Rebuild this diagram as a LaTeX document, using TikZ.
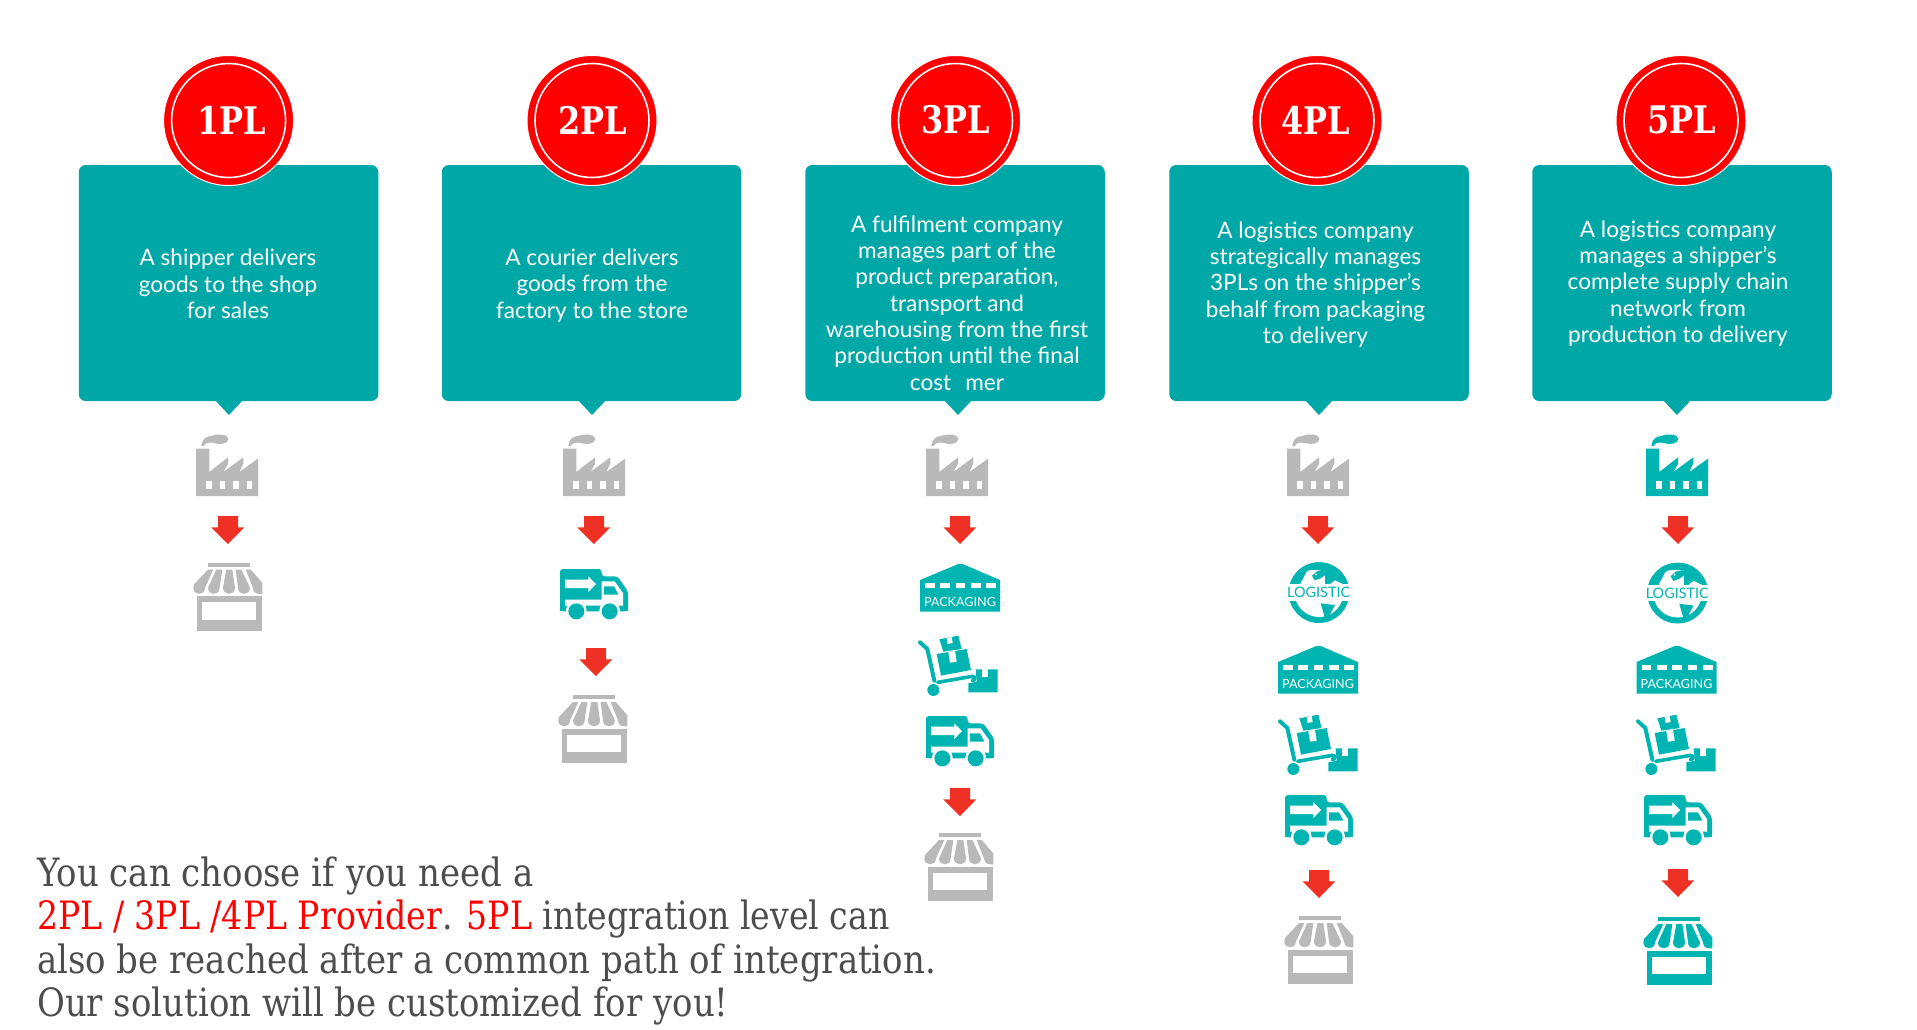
\documentclass[tikz,border=0pt]{standalone}
\usepackage{fontspec}
\setmainfont{Lato}
\newfontfamily\slabfont[FakeStretch=0.871]{DejaVu Serif}
\newfontfamily\slabfontb[FakeStretch=0.85]{DejaVu Serif}
\newfontfamily\headfont[FakeStretch=0.84]{DejaVu Serif Bold}
\definecolor{boxteal}{HTML}{00A7A7}
\definecolor{iconteal}{HTML}{00B5B1}
\definecolor{icongrey}{HTML}{B9B9B9}
\definecolor{arrowred}{HTML}{EE3124}
\definecolor{badgered}{HTML}{FF0000}
\definecolor{slabgrey}{HTML}{4D4D4D}
\tikzset{
  x=1pt,y=-1pt,
  bubble/.style={fill=boxteal,rounded corners=7pt,inner sep=0pt,minimum width=299.5pt,minimum height=236pt},
  bubbletxt/.style={text=white,align=center,inner sep=0pt,font=\fontsize{22.6}{26.3}\selectfont},
  badge/.style={circle,fill=badgered,draw=white,line width=1pt,minimum size=130pt,inner sep=0pt},
  badgering/.style={circle,draw=white,line width=1.6pt,minimum size=114pt,inner sep=0pt},
  badgetxt/.style={text=white,inner sep=0pt,font=\headfont\fontsize{38}{38}\selectfont},
  slabline/.style={anchor=base west,inner sep=0pt,text=slabgrey,font=\slabfont\fontsize{39}{43}\selectfont},
  slablineb/.style={anchor=base west,inner sep=0pt,text=slabgrey,font=\slabfontb\fontsize{39}{43}\selectfont},
  icon/.style={scale=0.33333},
  pics/factory/.style={code={
    \fill[#1] (108,86)--(148,86)--(148,156)--(204,112)--(204,132)--(190,156)--(250,112)--(250,130)--(238,156)--(294,116)--(294,228)--(108,228)--cycle;
    \foreach \wx in {139,180,220,260}{\fill[white] (\wx,182) rectangle ++(16,25);}
    \fill[#1] (124,78) .. controls (126,58) and (138,48) .. (155,48) .. controls (170,40) and (204,42) .. (205,56) .. controls (205,72) and (180,74) .. (165,70) .. controls (152,66) and (136,66) .. (131,78) -- cycle;
  }},
  pics/downarrow/.style={code={
    \fill[arrowred] (180,288)--(240,288)--(240,322)--(259,322)--(210,372)--(160,322)--(180,322)--cycle;
  }},
  pics/packaging/.style={code={
    \fill[iconteal] (90,480)--(205,432)--(218,432)--(330,480)--(330,575)--(90,575)--cycle;
    \foreach \dx in {105,151,197,243,289}{\fill[white] (\dx,489) rectangle ++(29,14);}
    \node[text=white,inner sep=0pt,font=\fontsize{12.6}{13}\selectfont] (word) at (210,546) {PACKAGING};
  }},
  pics/trolley/.style={code={
    \fill[iconteal] (182,118)--(248,118)--(248,187)--(160,187)--(160,160)--(185,155)--cycle;
    \fill[white] (200,117) rectangle (220,142);
    \draw[white,line width=6pt,line cap=round] (72,157)--(172,139);
    \draw[iconteal,line width=4pt,line cap=round,line join=round] (15,37)--(37,57)--(58,152);
    \draw[iconteal,line width=3.6pt,line cap=round] (68,157)--(172,139) .. controls (182,140) and (182,150) .. (172,152);
    \fill[iconteal] (55,180) circle[radius=18];
    \fill[iconteal] (73,28)--(130,17)--(140,57)--(85,65)--cycle;
    \fill[white] (95,24)--(110,21)--(113,39)--(98,42)--cycle;
    \fill[iconteal] (65,72)--(155,57)--(168,120)--(78,137)--cycle;
    \fill[white] (100,66)--(120,63)--(125,95)--(105,98)--cycle;
  }},
  pics/truck/.style={code={
    \fill[iconteal,rounded corners=3pt] (18,18)--(143,18)--(143,40)--(190,40)--(222,85)--(222,145)--(18,145)--cycle;
    \fill[white] (33,110)--(143,110)--(143,55)--(182,55)--(207,90)--(207,128)--(33,128)--cycle;
    \fill[iconteal] (150,70)--(180,70)--(193,95)--(150,95)--cycle;
    \fill[white] (33,50)--(103,50)--(103,40)--(126,63)--(103,87)--(103,75)--(33,75)--cycle;
    \fill[white] (67,143) circle[radius=31];
    \fill[white] (167,143) circle[radius=31];
    \fill[iconteal] (18,128) rectangle (36,145);
    \fill[iconteal] (98,128) rectangle (136,145);
    \fill[iconteal] (198,128) rectangle (222,145);
    \fill[iconteal] (67,145) circle[radius=24];
    \fill[iconteal] (167,145) circle[radius=24];
  }},
  pics/globe/.style={code={
    \begin{scope}
      \clip (117,113) circle[radius=91];
      \fill[iconteal] (20,20) rectangle (215,88);
      \fill[iconteal] (20,137) rectangle (215,210);
      \fill[white] (117,113) circle[radius=73] ;
      \fill[iconteal] (20,20) rectangle (215,44);
      \fill[iconteal] (135,20) rectangle (215,88);
      \fill[iconteal] (40,30) -- (90,30) -- (60,88) -- (20,88) -- cycle;
      \fill[white] (150,88)--(165,76)--(190,88)--cycle;
      \fill[iconteal] (96,62)--(112,48)--(130,44)--(146,46)--(136,60)--(122,70)--(104,76)--cycle;
      \fill[white] (108,58) circle[radius=3];
      \fill[iconteal] (122,145)--(165,150)--(150,178)--(135,190)--(128,165)--cycle;
      \fill[white] (20,88) rectangle (215,137);
    \end{scope}
    \node[text=iconteal,inner sep=0pt,font=\fontsize{14.4}{15}\selectfont] (word) at (116,113) {LOGISTIC};
  }},
  pics/store/.style={code={
    \fill[#1] (73,24) rectangle (197,36);
    \fill[#1] (30,90)--(72,45)--(88,45)--(63,100) .. controls (63,124) and (28,124) .. (28,100)--cycle;
    \fill[#1] (97,45)--(115,45)--(107,100) .. controls (107,124) and (72,124) .. (72,100)--cycle;
    \fill[#1] (127,45)--(145,45)--(153,100) .. controls (153,124) and (117,124) .. (117,100)--cycle;
    \fill[#1] (155,45)--(172,45)--(198,100) .. controls (198,124) and (162,124) .. (162,100)--cycle;
    \fill[#1] (185,45)--(200,45)--(235,85)--(235,118)--(225,118) .. controls (215,118) and (207,110) .. (207,100)--cycle;
    \fill[#1] (38,125) rectangle (233,228);
    \fill[white] (55,143) rectangle (215,195);
  }},
}
\begin{document}
\begin{tikzpicture}
\useasboundingbox (0,0) rectangle (1917,1029);
% bubbles
\foreach \nm/\bx/\tx in {b1/228.5/229,b2/591.5/592,b3/955/958,b4/1319/1319,b5/1682/1677}{
  \node[bubble] (\nm) at (\bx,283) {};
  \fill[boxteal] (\tx-14,400)--(\tx+14,400)--(\tx,415)--cycle;
}
% bubble texts
\node[bubbletxt] (t1) at (228,284) {A shipper delivers\\goods to the shop\\for sales};
\node[bubbletxt] (t2) at (592,285.5) {A courier delivers\\goods from the\\factory to the store};
\node[bubbletxt] (t3) at (957,303) {A fulfilment company\\manages part of the\\product preparation,\\transport and\\warehousing from the first\\production until the final\\cost\hspace{14pt}mer};
\node[bubbletxt] (t4) at (1315.5,284.5) {A logistics company\\strategically manages\\3PLs on the shipper's\\behalf from packaging\\to delivery};
\node[bubbletxt] (t5) at (1678,283.5) {A logistics company\\manages a shipper's\\complete supply chain\\network from\\production to delivery};
% badges
\foreach \nm/\cx/\lx/\lab in {1/228.6/232/1PL,2/592/593/2PL,3/955.5/956/3PL,4/1317/1315.5/4PL,5/1681/1682/5PL}{
  \node[badge] (c\nm) at (\cx,120.5) {};
  \node[badgering] (r\nm) at (\cx,120.5) {};
  \node[badgetxt] (l\nm) at (\lx,120) {\lab};
}
% column 1
\pic[icon] (f1) at (160,420) {factory=icongrey};
\pic[icon] (a11) at (158,420) {downarrow};
\pic[icon] (s1) at (184,554.5) {store=icongrey};
% column 2
\pic[icon] (f2) at (527,420) {factory=icongrey};
\pic[icon] (a21) at (524,420) {downarrow};
\pic[icon] (k2) at (554,563) {truck};
\pic[icon] (a22) at (526,552) {downarrow};
\pic[icon] (s2) at (549,687) {store=icongrey};
% column 3
\pic[icon] (f3) at (890,420) {factory=icongrey};
\pic[icon] (a31) at (890,420) {downarrow};
\pic[icon] (p3) at (890,420) {packaging};
\pic[icon] (o3) at (915,630) {trolley};
\pic[icon] (k3) at (920,710) {truck};
\pic[icon] (a32) at (890,692) {downarrow};
\pic[icon] (s3) at (915,825) {store=icongrey};
% column 4
\pic[icon] (f4) at (1251,420) {factory=icongrey};
\pic[icon] (a41) at (1248,420) {downarrow};
\pic[icon] (g4) at (1280,555) {globe};
\pic[icon] (p4) at (1248,502) {packaging};
\pic[icon] (o4) at (1275,709) {trolley};
\pic[icon] (k4) at (1279,789) {truck};
\pic[icon] (a42) at (1249,774) {downarrow};
\pic[icon] (s4) at (1275,908) {store=icongrey};
% column 5
\pic[icon] (f5) at (1610,420) {factory=iconteal};
\pic[icon] (a51) at (1608,420) {downarrow};
\pic[icon] (g5) at (1638.6,555.5) {globe};
\pic[icon] (p5) at (1606.5,502) {packaging};
\pic[icon] (o5) at (1633,709) {trolley};
\pic[icon] (k5) at (1638,789) {truck};
\pic[icon] (a52) at (1608,773) {downarrow};
\pic[icon] (s5) at (1634,909) {store=iconteal};
% closing text
\node[slabline] (n1) at (37,886.5) {You can choose if you need a};
\node[slablineb] (n2) at (37,929.5) {\textcolor{badgered}{2PL / 3PL /4PL Provider}. \textcolor{badgered}{5PL} integration level can};
\node[slabline] (n3) at (37,973) {also be reached after a common path of integration.};
\node[slabline] (n4) at (37,1016) {Our solution will be customized for you!};
\end{tikzpicture}
\end{document}
